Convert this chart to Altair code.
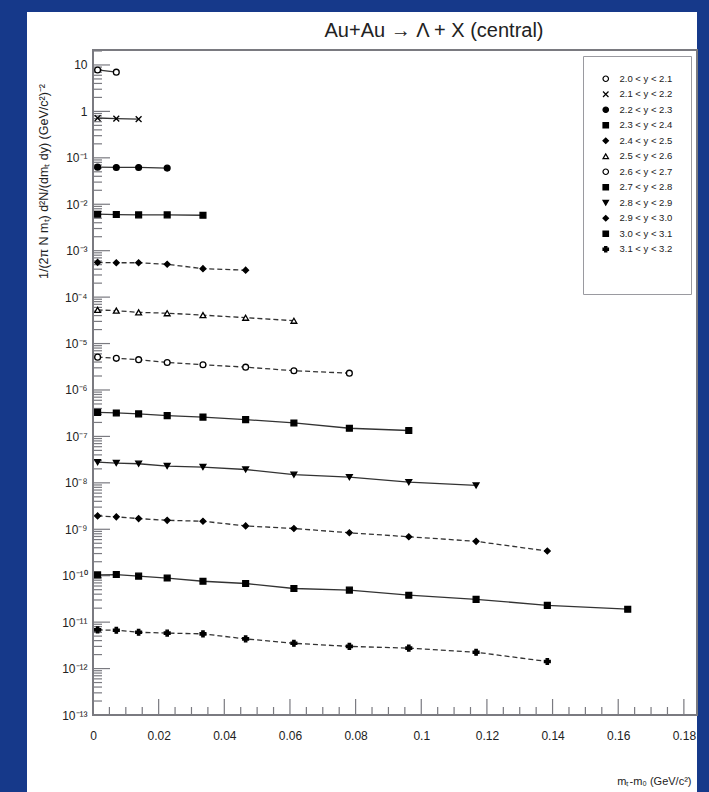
import altair as alt
import pandas as pd

# ---- data -------------------------------------------------------------
# bin centres in m_T - m_0 (GeV/c^2), shared by all rapidity slices
MT_CENTRES = [0.0014, 0.0071, 0.0139, 0.0226, 0.0335, 0.0465,
              0.0612, 0.0781, 0.0962, 0.1167, 0.1384, 0.1629]

RAPIDITY_BINS = ["2.0 < y < 2.1", "2.1 < y < 2.2", "2.2 < y < 2.3",
                 "2.3 < y < 2.4", "2.4 < y < 2.5", "2.5 < y < 2.6",
                 "2.6 < y < 2.7", "2.7 < y < 2.8", "2.8 < y < 2.9",
                 "2.9 < y < 3.0", "3.0 < y < 3.1", "3.1 < y < 3.2"]

# invariant yields (scaled by powers of ten for display)
Y_20_21 = [7.8, 7.0]
Y_21_22 = [0.72, 0.70, 0.68]
Y_22_23 = [0.063, 0.062, 0.062, 0.060]
Y_23_24 = [6.1e-3, 6.0e-3, 5.9e-3, 5.9e-3, 5.8e-3]
Y_24_25 = [5.6e-4, 5.5e-4, 5.5e-4, 5.1e-4, 4.1e-4, 3.8e-4]
Y_25_26 = [5.3e-5, 5.1e-5, 4.7e-5, 4.5e-5, 4.1e-5, 3.6e-5, 3.1e-5]
Y_26_27 = [5.1e-6, 4.8e-6, 4.5e-6, 3.9e-6, 3.5e-6, 3.1e-6, 2.6e-6, 2.3e-6]
Y_27_28 = [3.3e-7, 3.2e-7, 3.05e-7, 2.8e-7, 2.6e-7, 2.3e-7, 1.95e-7,
           1.5e-7, 1.34e-7]
Y_28_29 = [2.8e-8, 2.67e-8, 2.58e-8, 2.3e-8, 2.19e-8, 1.94e-8, 1.5e-8,
           1.33e-8, 1.04e-8, 8.8e-9]
Y_29_30 = [1.94e-9, 1.85e-9, 1.70e-9, 1.56e-9, 1.49e-9, 1.18e-9, 1.04e-9,
           8.4e-10, 6.9e-10, 5.5e-10, 3.4e-10]
Y_30_31 = [1.04e-10, 1.06e-10, 9.8e-11, 8.9e-11, 7.6e-11, 6.8e-11, 5.3e-11,
           4.9e-11, 3.8e-11, 3.1e-11, 2.3e-11, 1.9e-11]
Y_31_32 = [6.8e-12, 6.7e-12, 6.05e-12, 5.8e-12, 5.6e-12, 4.35e-12, 3.5e-12,
           3.0e-12, 2.75e-12, 2.25e-12, 1.42e-12]

SERIES = [Y_20_21, Y_21_22, Y_22_23, Y_23_24, Y_24_25, Y_25_26,
          Y_26_27, Y_27_28, Y_28_29, Y_29_30, Y_30_31, Y_31_32]

X_MAJOR = [0, 0.02, 0.04, 0.06, 0.08, 0.1, 0.12, 0.14, 0.16, 0.18]
X_MINOR = [round(0.005 * i, 3) for i in range(1, 37) if i % 4 != 0]
Y_EXPONENTS = list(range(-13, 2))
Y_MAJOR = [10.0 ** k for k in Y_EXPONENTS]
Y_MINOR = [m * 10.0 ** k for k in Y_EXPONENTS for m in range(2, 10)
           if m * 10.0 ** k <= 21]

TITLE = "Au+Au \u2192 \u039b + X (central)"
X_TITLE = "m\u209c-m\u2080    (GeV/c\u00b2)"
Y_TITLE = "1/(2\u03c0 N m\u209c)  d\u00b2N/(dm\u209c dy)   (GeV/c\u00b2)\u207b\u00b2"

# ---- styling ----------------------------------------------------------
W, H = 604, 665
BLUE = "#16398a"
FRAME = "#7a7a80"
FONT = "Liberation Sans"

SHAPES = ["circle", "M-1,-1L1,1M-1,1L1,-1", "circle", "square", "diamond",
          "triangle-up", "circle", "square", "triangle-down", "diamond",
          "square", "cross"]
FILLS = ["white", "black", "black", "black", "black", "white",
         "white", "black", "black", "black", "black", "black"]
DASHED = [False, False, False, False, True, True,
          True, False, False, True, False, True]

SUP = str.maketrans("-0123456789", "\u207b\u2070\u00b9\u00b2\u00b3\u2074\u2075\u2076\u2077\u2078\u2079")


def decade_label(k):
    if k == 1:
        return "10"
    if k == 0:
        return "1"
    return "10" + str(k).translate(SUP)


label_expr = "".join(
    f"round(log(datum.value)/LN10) == {k} ? '{decade_label(k)}' : "
    for k in Y_EXPONENTS) + "''"

rows = []
for name, ys, dashed in zip(RAPIDITY_BINS, SERIES, DASHED):
    for x, y in zip(MT_CENTRES, ys):
        rows.append({"slice": name, "dashed": dashed, "mt": x, "dndy": y})
df = pd.DataFrame(rows)

x_scale = alt.Scale(domain=[0, 0.184], nice=False, zero=False)
y_scale = alt.Scale(type="log", domain=[1e-13, 21], nice=False)

x_axis = alt.Axis(values=X_MAJOR, format=".2~f", tickSize=0, domain=False,
                  grid=False, labelPadding=15, labelFontSize=12,
                  labelFont=FONT, labelColor="#222", title=X_TITLE,
                  titleFont=FONT, titleFontSize=11, titleFontWeight="normal",
                  titleColor="#222", titleAnchor="end", titleAlign="right",
                  titleX=W - 6, titleY=66, titleBaseline="middle",
                  labelFlush=False, zindex=1)
y_axis = alt.Axis(values=Y_MAJOR, labelExpr=label_expr, tickSize=0,
                  domain=False, grid=False, labelPadding=6, labelFontSize=12,
                  labelFont=FONT, labelColor="#222", title=Y_TITLE,
                  titleFont=FONT, titleFontSize=12.5, titleFontWeight="normal",
                  titleColor="#222", titleAngle=270, titleAlign="center",
                  titleBaseline="middle", titleX=-50, titleY=131,
                  labelFlush=False, zindex=1)

shape_scale = alt.Scale(domain=RAPIDITY_BINS, range=SHAPES)
fill_scale = alt.Scale(domain=RAPIDITY_BINS, range=FILLS)
stroke_scale = alt.Scale(domain=RAPIDITY_BINS, range=["black"] * 12)

slice_legend = alt.Legend(orient="top-right", title=" ", titleOrient="bottom",
                          titlePadding=14, titleFontSize=8)

X = alt.X("mt:Q", scale=x_scale, axis=x_axis)
Y = alt.Y("dndy:Q", scale=y_scale, axis=y_axis)

# connecting lines: solid and dashed slices drawn as two layers
solid_lines = alt.Chart(df[~df["dashed"]]).mark_line(
    color="#333", strokeWidth=1.3).encode(x=X, y=Y, detail="slice:N")
dashed_lines = alt.Chart(df[df["dashed"]]).mark_line(
    color="#333", strokeWidth=1.3, strokeDash=[5, 3]).encode(
    x=X, y=Y, detail="slice:N")

points = alt.Chart(df).mark_point(size=34, strokeWidth=1.3, opacity=1).encode(
    x=X, y=Y,
    shape=alt.Shape("slice:N", scale=shape_scale, legend=slice_legend),
    fill=alt.Fill("slice:N", scale=fill_scale, legend=slice_legend),
    stroke=alt.Stroke("slice:N", scale=stroke_scale, legend=slice_legend),
)

# inward pointing tick marks, major and minor
xt_major = alt.Chart(pd.DataFrame({"mt": X_MAJOR})).mark_rule(
    color=FRAME, strokeWidth=1.2).encode(x=X, y=alt.value(H), y2=alt.value(H - 16))
xt_minor = alt.Chart(pd.DataFrame({"mt": X_MINOR})).mark_rule(
    color=FRAME, strokeWidth=1.2).encode(x=X, y=alt.value(H), y2=alt.value(H - 8))
yt_major = alt.Chart(pd.DataFrame({"dndy": Y_MAJOR})).mark_rule(
    color=FRAME, strokeWidth=1.2).encode(y=Y, x=alt.value(0), x2=alt.value(17))
yt_minor = alt.Chart(pd.DataFrame({"dndy": Y_MINOR})).mark_rule(
    color=FRAME, strokeWidth=1.2).encode(y=Y, x=alt.value(0), x2=alt.value(9))

# plot frame
frame = alt.Chart(pd.DataFrame({"k": [0]})).mark_rect(
    fill=None, stroke=FRAME, strokeWidth=2, clip=False).encode(
    x=alt.value(0), x2=alt.value("width"), y=alt.value(0), y2=alt.value("height"))

# blue page border around the white sheet
left_band = alt.Chart(pd.DataFrame({"k": [0]})).mark_rect(
    color=BLUE, clip=False).encode(
    x=alt.value(-93), x2=alt.value(-66), y=alt.value(-50), y2=alt.value(H + 77))
top_band = alt.Chart(pd.DataFrame({"k": [0]})).mark_rect(
    color=BLUE, clip=False).encode(
    x=alt.value(-93), x2=alt.value(W + 12), y=alt.value(-50), y2=alt.value(-38))
right_band = alt.Chart(pd.DataFrame({"k": [0]})).mark_rect(
    color=BLUE, clip=False).encode(
    x=alt.value(W), x2=alt.value(W + 12), y=alt.value(-50), y2=alt.value(H + 77))

chart = alt.layer(
    left_band, top_band, right_band,
    xt_minor, xt_major, yt_minor, yt_major, solid_lines, dashed_lines,
    points, frame,
).properties(
    width=W, height=H,
    autosize=alt.AutoSizeParams(type="none"),
    padding={"left": 93, "top": 50, "right": 12, "bottom": 77},
    title=alt.TitleParams(TITLE, font=FONT, fontSize=20, fontWeight="normal",
                          color="#222", anchor="middle", frame="group",
                          dx=39, dy=41, offset=0),
).configure(background="white").configure_view(
    stroke=None, fill="white"
).configure_legend(
    offset=6, fillColor="white", strokeColor="#9a9aa0", padding=18,
    labelFont=FONT, labelFontSize=9.5, labelColor="#222", symbolSize=30,
    symbolStrokeWidth=1.2, rowPadding=4.5, labelOffset=9, zindex=2,
)

chart.save("out.html", embed_options={"renderer": "svg", "actions": False})
